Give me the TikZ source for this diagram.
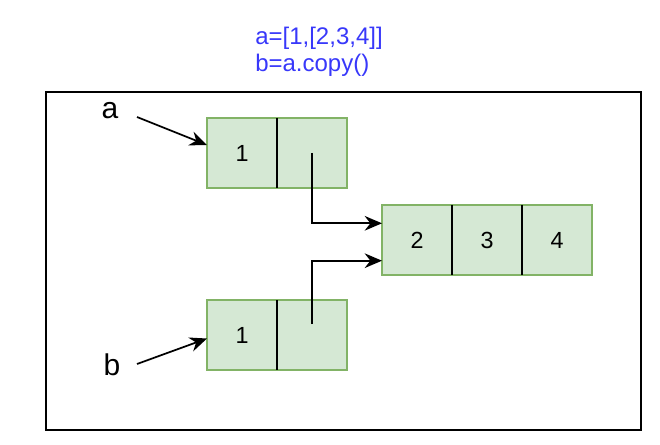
\documentclass[tikz,border=0pt]{standalone}
\usepackage{fontspec}
\setmainfont{Liberation Sans}
\usepackage{tikz}
\usepackage{xcolor}
\usetikzlibrary{arrows.meta, positioning, calc}
\definecolor{cellfill}{RGB}{213,232,212}
\definecolor{celledge}{RGB}{130,179,102}
\definecolor{codeblue}{RGB}{56,56,250}
\tikzset{
  cell/.style={rectangle,draw=celledge,fill=cellfill,line width=1.4pt,minimum width=52.5pt,minimum height=52.5pt,
    inner sep=0pt,outer sep=0pt,font=\fontsize{17.5}{20}\selectfont},
  varlabel/.style={inner sep=0pt,font=\fontsize{22.5}{26}\selectfont},
  divider/.style={line width=1.3pt,black},
  ptr/.style={-{Stealth[length=13pt,width=11pt,inset=4.3pt]},line width=1.3pt,black},
}

\begin{document}
\begin{tikzpicture}[x=0.75pt,y=-0.75pt,node distance=0pt]
  \useasboundingbox (0,0) rectangle (660,445);
  \node[inner sep=0pt,anchor=west,align=left,text=codeblue,font=\fontsize{18}{20.25}\selectfont] (code) at (255,51.5) {a=[1,[2,3,4]]\\b=a.copy()};
  \draw[line width=1.1pt] (46,92) rectangle (641,430);
  % list a and its copy b
  \node[cell] (a1) at (242,153) {1};
  \node[cell,right=of a1] (a2) {};
  \node[cell] (b1) at (242,335) {1};
  \node[cell,right=of b1] (b2) {};
  % shared inner list
  \node[cell] (l1) at (417,240) {2};
  \node[cell,right=of l1] (l2) {3};
  \node[cell,right=of l2] (l3) {4};
  \foreach \c in {a1,b1,l1,l2} {
    \draw[divider] (\c.north east)--(\c.south east);
  }
  \node[varlabel] (la) at (110,111) {a};
  \node[varlabel] (lb) at (112,365) {b};
  \draw[ptr] ($(la)+(27,6)$)--($(a1.west)+(0,-8)$);
  \draw[ptr] ($(lb)+(25,-1)$)--($(b1.west)+(0,3.5)$);
  \draw[ptr] (a2.center)|-($(l1.west)+(0,-16.7)$);
  \draw[ptr] ($(b2.center)+(0,-11)$)|-($(l1.west)+(0,20.7)$);
\end{tikzpicture}
\end{document}
